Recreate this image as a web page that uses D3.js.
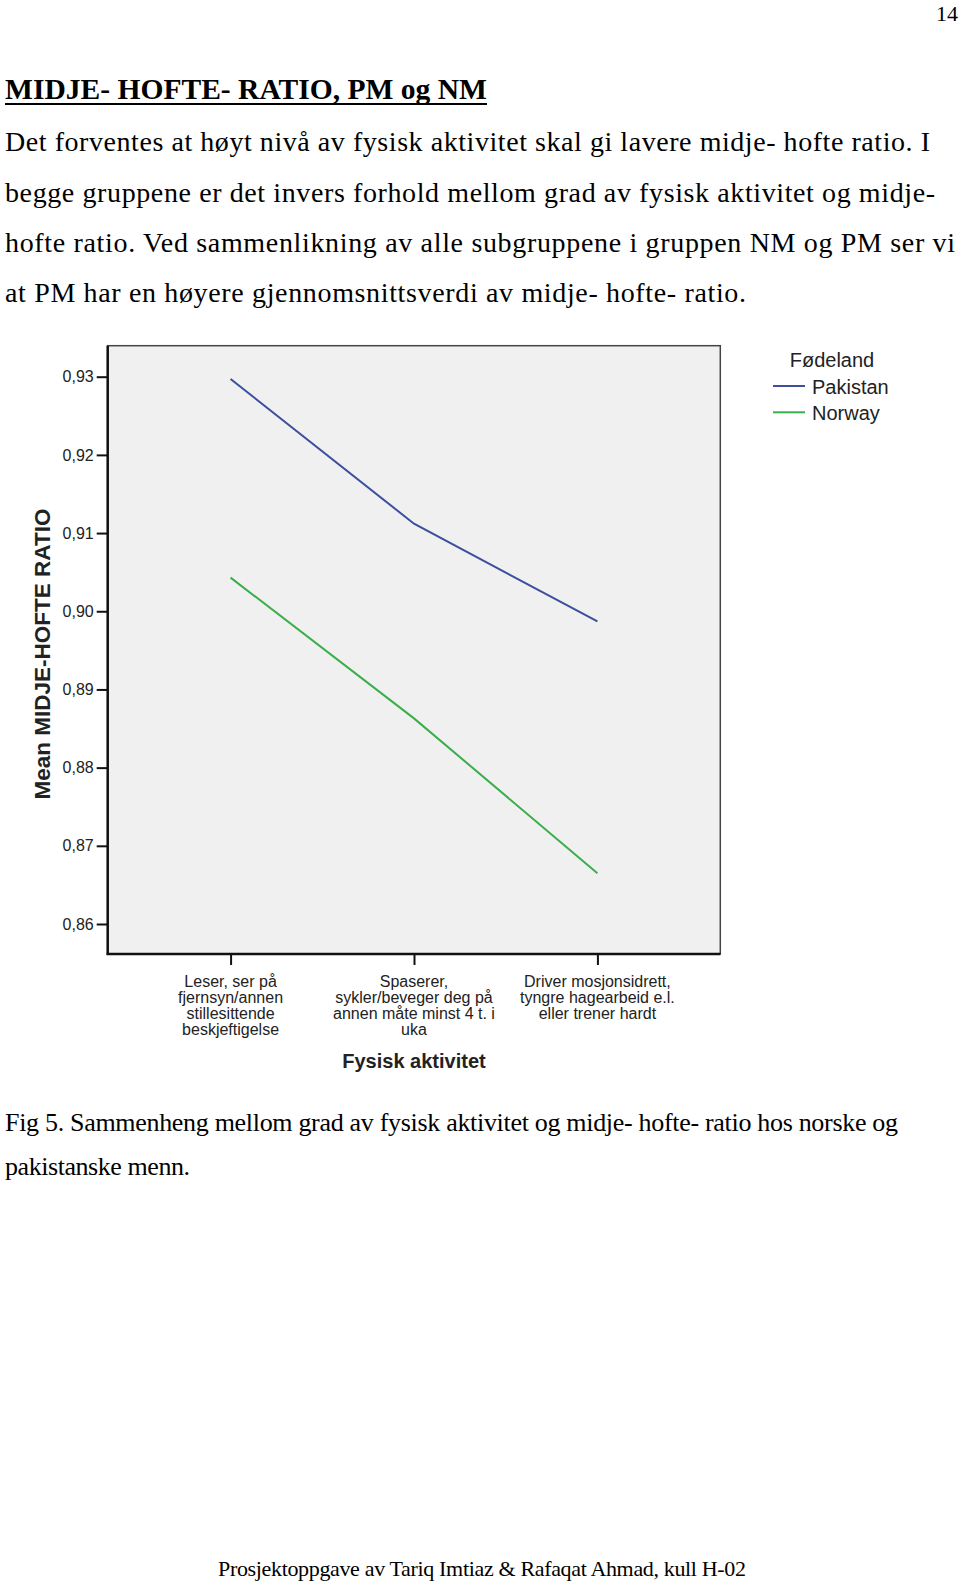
<!DOCTYPE html>
<html>
<head>
<meta charset="utf-8">
<script src="https://cdn.jsdelivr.net/npm/d3@7"></script>
<style>
  html, body { margin: 0; padding: 0; background: #fff; }
  svg { display: block; }
</style>
</head>
<body>
<script>
// ---------- data ----------
const categories = ["Leser", "Spaserer", "Driver"];
const categoryLabels = [
  ["Leser, ser på", "fjernsyn/annen", "stillesittende", "beskjeftigelse"],
  ["Spaserer,", "sykler/beveger deg på", "annen måte minst 4 t. i", "uka"],
  ["Driver mosjonsidrett,", "tyngre hagearbeid e.l.", "eller trener hardt"]
];
const seriesNames = ["Pakistan", "Norway"];
const pakistanValues = [0.9297, 0.9112, 0.8987];
const norwayValues = [0.9043, 0.8863, 0.8665];
const yTicks = [0.86, 0.87, 0.88, 0.89, 0.90, 0.91, 0.92, 0.93];
const seriesColors = ["#3b4f9c", "#3aae4a"];

const pageNumber = "14";
const heading = "MIDJE- HOFTE- RATIO, PM og NM";
const bodyLines = [
  "Det forventes at høyt nivå av fysisk aktivitet skal gi lavere midje- hofte ratio. I",
  "begge gruppene er det invers forhold mellom grad av fysisk aktivitet og midje-",
  "hofte ratio. Ved sammenlikning av alle subgruppene i gruppen NM og PM ser vi",
  "at PM har en høyere gjennomsnittsverdi av midje- hofte- ratio."
];
const captionLines = [
  "Fig 5. Sammenheng mellom grad av fysisk aktivitet og midje- hofte- ratio hos norske og",
  "pakistanske menn."
];
const footer = "Prosjektoppgave av Tariq Imtiaz & Rafaqat Ahmad, kull H-02";

// ---------- page ----------
const W = 960, H = 1584;
const svg = d3.select("body").append("svg").attr("width", W).attr("height", H);
const serif = "'Liberation Serif', 'Times New Roman', serif";
const sans = "'Liberation Sans', Arial, sans-serif";

svg.append("text").attr("x", 958).attr("y", 21).attr("text-anchor", "end")
  .attr("font-family", serif).attr("font-size", 22).text(pageNumber);

svg.append("text").attr("x", 5).attr("y", 99).attr("font-family", serif)
  .attr("font-weight", "bold").attr("font-size", 29)
  .attr("textLength", 482).attr("lengthAdjust", "spacingAndGlyphs").text(heading);
svg.append("line").attr("x1", 5).attr("x2", 487).attr("y1", 104).attr("y2", 104)
  .attr("stroke", "#000").attr("stroke-width", 2);

const bodyWidths = [925, 930, 950, 741];
const bodyBase = [151, 201.5, 252, 302];
bodyLines.forEach((t, i) => {
  svg.append("text").attr("x", 5).attr("y", bodyBase[i]).attr("font-family", serif)
    .attr("font-size", 28).attr("textLength", bodyWidths[i])
    .attr("lengthAdjust", "spacing").text(t);
});

const capWidths = [893, 185];
const capBase = [1131, 1175];
captionLines.forEach((t, i) => {
  svg.append("text").attr("x", 5).attr("y", capBase[i]).attr("font-family", serif)
    .attr("font-size", 26).attr("textLength", capWidths[i])
    .attr("lengthAdjust", "spacing").text(t);
});

svg.append("text").attr("x", 218).attr("y", 1576).attr("font-family", serif)
  .attr("font-size", 22).attr("textLength", 528)
  .attr("lengthAdjust", "spacing").text(footer);

// ---------- chart ----------
const frame = { left: 107.7, right: 720.3, top: 345.7, bottom: 954 };

const x = d3.scalePoint().domain(categories)
  .range([frame.left, frame.right]).padding(0.67);
const y = d3.scaleLinear().domain([0.86, 0.93]).range([924, 376.7]);

svg.append("rect").attr("x", frame.left).attr("y", frame.top)
  .attr("width", frame.right - frame.left).attr("height", frame.bottom - frame.top)
  .attr("fill", "#f0f0f0").attr("stroke", "#444").attr("stroke-width", 1.5);

// y axis
const yAxis = d3.axisLeft(y).tickValues(yTicks).tickSize(11).tickPadding(3)
  .tickFormat(d => d.toFixed(2).replace(".", ","));
const gy = svg.append("g").attr("transform", `translate(${frame.left},0)`).call(yAxis);
gy.select(".domain").remove();
gy.selectAll(".tick line").attr("stroke", "#111").attr("stroke-width", 2);
gy.selectAll(".tick text").attr("font-family", sans).attr("font-size", 16).attr("fill", "#222");

// x axis
const xAxis = d3.axisBottom(x).tickSize(11).tickFormat("");
const gx = svg.append("g").attr("transform", `translate(0,${frame.bottom})`).call(xAxis);
gx.select(".domain").remove();
gx.selectAll(".tick line").attr("stroke", "#111").attr("stroke-width", 2);

// thick axis lines
svg.append("line").attr("x1", frame.left).attr("x2", frame.left)
  .attr("y1", frame.top).attr("y2", frame.bottom + 1)
  .attr("stroke", "#111").attr("stroke-width", 2.5);
svg.append("line").attr("x1", frame.left - 1).attr("x2", frame.right)
  .attr("y1", frame.bottom).attr("y2", frame.bottom)
  .attr("stroke", "#111").attr("stroke-width", 2.5);

// category labels
categories.forEach((c, i) => {
  const t = svg.append("text").attr("text-anchor", "middle")
    .attr("font-family", sans).attr("font-size", 16).attr("fill", "#222");
  categoryLabels[i].forEach((ln, j) => {
    t.append("tspan").attr("x", x(c)).attr("y", 986.5 + j * 16.2).text(ln);
  });
});

svg.append("text").attr("x", (frame.left + frame.right) / 2).attr("y", 1068)
  .attr("text-anchor", "middle").attr("font-family", sans).attr("font-weight", "bold")
  .attr("font-size", 20).attr("fill", "#222").text("Fysisk aktivitet");

svg.append("text")
  .attr("transform", `translate(50,${(508 + 800) / 2}) rotate(-90)`)
  .attr("text-anchor", "middle").attr("font-family", sans).attr("font-weight", "bold")
  .attr("font-size", 22.5).attr("fill", "#222").text("Mean MIDJE-HOFTE RATIO");

// lines
const line = d3.line().x((d, i) => x(categories[i])).y(d => y(d));
[pakistanValues, norwayValues].forEach((vals, k) => {
  svg.append("path").datum(vals).attr("d", line).attr("fill", "none")
    .attr("stroke", seriesColors[k]).attr("stroke-width", 2);
});

// legend
svg.append("text").attr("x", 832).attr("y", 367).attr("text-anchor", "middle")
  .attr("font-family", sans).attr("font-size", 20).attr("fill", "#222").text("Fødeland");
seriesNames.forEach((n, k) => {
  const ly = 386 + k * 26.3;
  svg.append("line").attr("x1", 773).attr("x2", 805).attr("y1", ly).attr("y2", ly)
    .attr("stroke", seriesColors[k]).attr("stroke-width", 2);
  svg.append("text").attr("x", 812).attr("y", ly + 7.5)
    .attr("font-family", sans).attr("font-size", 20).attr("fill", "#222").text(n);
});
</script>
</body>
</html>
